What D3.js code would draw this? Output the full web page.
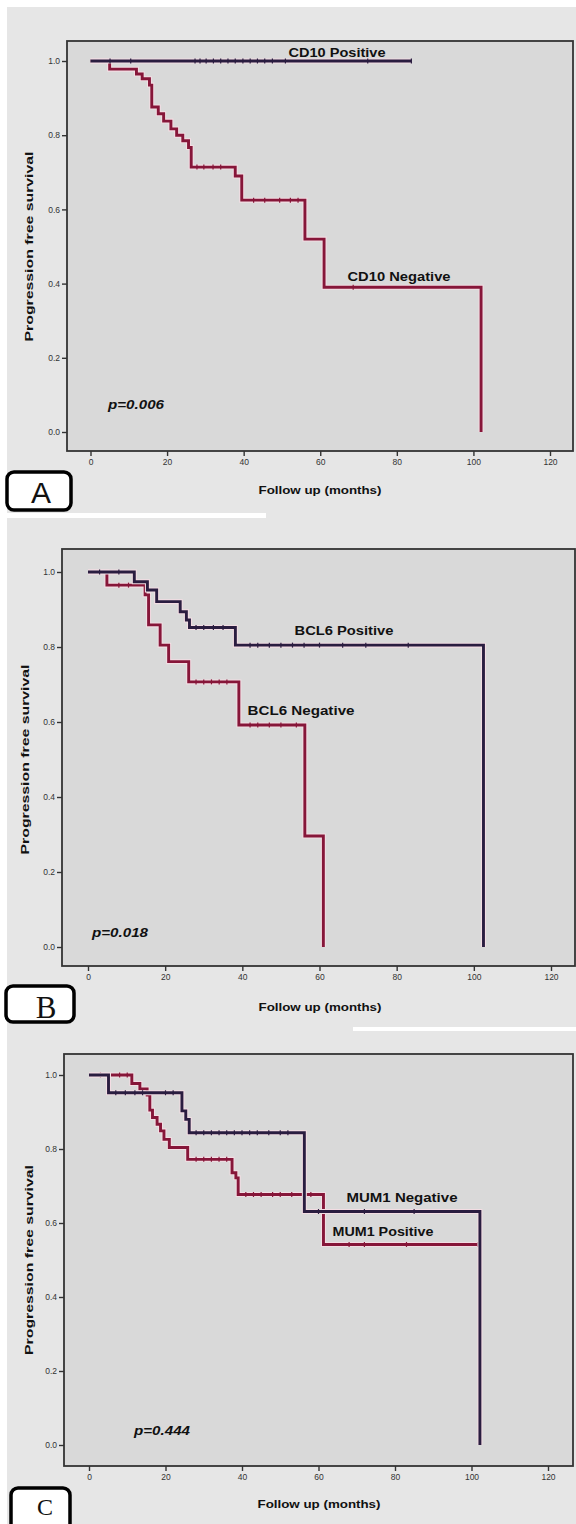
<!DOCTYPE html>
<html>
<head>
<meta charset="utf-8">
<script src="https://cdn.jsdelivr.net/npm/d3@7"></script>
<style>
  body { margin: 0; background: #fff; }
  svg { display: block; }
  text { font-family: "Liberation Sans", Arial, sans-serif; }
</style>
</head>
<body>
<svg id="chart" width="576" height="1524"></svg>
<script>
// axis ticks shared by the three panels
const monthTicks = [0, 20, 40, 60, 80, 100, 120];
const survTicks = [0.0, 0.2, 0.4, 0.6, 0.8, 1.0];

// A - CD10
const cd10PosTime = [0];
const cd10PosSurv = [1];
const cd10PosEnd = 83.8;
const cd10PosCens = [5.1, 10.5, 27.3, 28.6, 30.2, 32.1, 34, 35.9, 37.8, 39.8, 41.7, 43.6, 45.5, 47.5, 50.9, 72.4, 83.8];
const cd10NegTime = [0, 5.0, 12.0, 13.5, 15.4, 16.0, 17.7, 19.1, 21.0, 22.5, 24.1, 25.6, 26.3, 37.8, 39.5, 56.0, 61.0, 102.0];
const cd10NegSurv = [1, 0.978, 0.965, 0.952, 0.935, 0.876, 0.858, 0.838, 0.817, 0.800, 0.785, 0.767, 0.714, 0.690, 0.625, 0.520, 0.390, 0];
const cd10NegCens = [27.8, 29.6, 32.0, 34.0, 42.6, 45.5, 49.4, 52.2, 54.2, 68.6];

// B - BCL6
const bcl6PosTime = [0, 12.0, 15.4, 17.8, 23.9, 25.5, 26.3, 38.2, 102.5];
const bcl6PosSurv = [1, 0.974, 0.952, 0.921, 0.894, 0.872, 0.852, 0.805, 0];
const bcl6PosCens = [3, 8, 28, 30, 32.5, 35, 42, 44, 47, 50, 53, 56, 60, 66, 72, 83];
const bcl6NegTime = [0, 4.9, 14.8, 15.7, 18.7, 20.9, 26.1, 39.1, 56.2, 61.0];
const bcl6NegSurv = [1, 0.965, 0.939, 0.859, 0.805, 0.761, 0.707, 0.592, 0.296, 0];
const bcl6NegCens = [8, 10.5, 28, 30, 32, 34, 36, 42, 44, 47, 50, 54];

// C - MUM1
const mum1NegTime = [0, 5.1, 24.3, 25.3, 26.2, 56.3, 102.2];
const mum1NegSurv = [1, 0.952, 0.903, 0.880, 0.844, 0.631, 0];
const mum1NegCens = [7, 9.5, 12, 14, 20, 22, 28, 30, 32, 34, 36, 38, 40, 42, 44, 47, 50, 52, 60, 72, 85];
const mum1PosTime = [0, 11.2, 13.3, 15.2, 15.9, 16.6, 17.8, 18.7, 19.6, 21.0, 25.8, 37.4, 38.4, 39.0, 61.3];
const mum1PosSurv = [1, 0.977, 0.962, 0.946, 0.905, 0.885, 0.867, 0.849, 0.826, 0.804, 0.772, 0.736, 0.722, 0.677, 0.542];
const mum1PosEnd = 101.7;
const mum1PosCens = [3, 8, 10, 28, 30, 32, 34, 36, 41, 43, 45, 48, 50, 53, 56, 58, 68, 72, 83, 101.7];

const navy = "#2a1d40";
const crimson = "#861639";

const panels = [
  {
    letter: "A", serif: false,
    frame: [67, 41, 573, 451], xr: [90.5, 550], yr: [432, 61], titleX: 29,
    series: [
      {time: cd10NegTime, surv: cd10NegSurv, cens: cd10NegCens, color: crimson},
      {time: cd10PosTime, surv: cd10PosSurv, end: cd10PosEnd, cens: cd10PosCens, color: navy}
    ],
    labels: [
      {text: "CD10 Positive", x: 337, y: 52, w: 97},
      {text: "CD10 Negative", x: 399, y: 276, w: 103}
    ],
    p: {text: "p=0.006", x: 136, y: 405},
    xlab: {x: 320, y: 490},
    box: [7, 472, 64, 38], letterPos: [41, 503], letterSize: 30
  },
  {
    letter: "B", serif: true,
    frame: [62, 549, 575, 966], xr: [88, 551], yr: [947, 572], titleX: 25,
    series: [
      {time: bcl6NegTime, surv: bcl6NegSurv, cens: bcl6NegCens, color: crimson},
      {time: bcl6PosTime, surv: bcl6PosSurv, cens: bcl6PosCens, color: navy}
    ],
    labels: [
      {text: "BCL6 Positive", x: 344, y: 630, w: 99},
      {text: "BCL6 Negative", x: 301, y: 710, w: 107}
    ],
    p: {text: "p=0.018", x: 120, y: 933},
    xlab: {x: 320, y: 1007},
    box: [6, 986, 68, 36], letterPos: [46, 1018], letterSize: 31
  },
  {
    letter: "C", serif: true,
    frame: [64, 1054, 573, 1466], xr: [89, 548], yr: [1445, 1075], titleX: 29,
    series: [
      {time: mum1PosTime, surv: mum1PosSurv, end: mum1PosEnd, cens: mum1PosCens, color: crimson},
      {time: mum1NegTime, surv: mum1NegSurv, cens: mum1NegCens, color: navy}
    ],
    labels: [
      {text: "MUM1 Negative", x: 402, y: 1197, w: 111},
      {text: "MUM1 Positive", x: 383, y: 1231, w: 101}
    ],
    p: {text: "p=0.444", x: 162, y: 1431},
    xlab: {x: 319, y: 1504},
    box: [11, 1488, 59, 50], letterPos: [45, 1515], letterSize: 24
  }
];

const svg = d3.select("#chart");

// page background and the white gaps between the cut-out panels
svg.append("rect").attr("x", 7).attr("y", 7).attr("width", 569).attr("height", 1517).attr("fill", "#e6e6e6");
svg.append("rect").attr("x", 0).attr("y", 513).attr("width", 266).attr("height", 5).attr("fill", "#fff");
svg.append("rect").attr("x", 353).attr("y", 1027).attr("width", 223).attr("height", 4).attr("fill", "#fff");

function survAt(times, surv, t) {
  const i = d3.bisectRight(times, t) - 1;
  return surv[Math.max(0, i)];
}

function drawPanel(p) {
  const g = svg.append("g");
  const [fx0, fy0, fx1, fy1] = p.frame;
  const x = d3.scaleLinear().domain([0, 120]).range(p.xr);
  const y = d3.scaleLinear().domain([0, 1]).range(p.yr);

  g.append("rect")
    .attr("x", fx0).attr("y", fy0)
    .attr("width", fx1 - fx0).attr("height", fy1 - fy0)
    .attr("fill", "#d9d9d9");

  const line = d3.line()
    .x(d => x(d[0]))
    .y(d => y(d[1]))
    .curve(d3.curveStepAfter);

  p.series.forEach(s => {
    const pts = s.time.map((t, i) => [t, s.surv[i]]);
    if (s.end != null) pts.push([s.end, s.surv[s.surv.length - 1]]);

    g.append("path").datum(pts)
      .attr("d", line)
      .attr("fill", "none")
      .attr("stroke", "#f3dde3")
      .attr("stroke-width", 5);
    g.append("path").datum(pts)
      .attr("d", line)
      .attr("fill", "none")
      .attr("stroke", s.color)
      .attr("stroke-width", 2.9);

    g.selectAll(null)
      .data(s.cens)
      .enter()
      .append("line")
      .attr("x1", d => x(d)).attr("x2", d => x(d))
      .attr("y1", d => y(survAt(s.time, s.surv, d)) - 2.5)
      .attr("y2", d => y(survAt(s.time, s.surv, d)) + 2.5)
      .attr("stroke", s.color)
      .attr("stroke-width", 1.2);
  });

  // axes
  const ya = g.append("g")
    .attr("transform", "translate(" + fx0 + ",0)")
    .call(d3.axisLeft(y).tickValues(survTicks).tickFormat(d3.format(".1f")).tickSize(5).tickPadding(2));
  const xa = g.append("g")
    .attr("transform", "translate(0," + fy1 + ")")
    .call(d3.axisBottom(x).tickValues(monthTicks).tickSize(5).tickPadding(3));
  [ya, xa].forEach(a => {
    a.select(".domain").remove();
    a.selectAll(".tick line").attr("stroke", "#333").attr("stroke-width", 1.4);
    a.selectAll("text").attr("font-size", 8.5).attr("fill", "#333")
      .style("font-family", "'Liberation Sans Narrow', 'Liberation Sans', Arial, sans-serif");
  });

  g.append("rect")
    .attr("x", fx0).attr("y", fy0)
    .attr("width", fx1 - fx0).attr("height", fy1 - fy0)
    .attr("fill", "none")
    .attr("stroke", "#333")
    .attr("stroke-width", 1.8);

  // curve labels
  p.labels.forEach(l => {
    g.append("text")
      .attr("x", l.x).attr("y", l.y + 4.5)
      .attr("text-anchor", "middle")
      .attr("font-size", 13).attr("font-weight", "bold")
      .attr("fill", "#111")
      .attr("textLength", l.w).attr("lengthAdjust", "spacingAndGlyphs")
      .text(l.text);
  });

  g.append("text")
    .attr("x", p.p.x).attr("y", p.p.y + 4)
    .attr("text-anchor", "middle")
    .attr("font-size", 12).attr("font-weight", "bold").attr("font-style", "italic")
    .attr("fill", "#111")
    .attr("textLength", 56).attr("lengthAdjust", "spacingAndGlyphs")
    .text(p.p.text);

  g.append("text")
    .attr("x", p.xlab.x).attr("y", p.xlab.y + 4)
    .attr("text-anchor", "middle")
    .attr("font-size", 11).attr("font-weight", "bold")
    .attr("fill", "#111")
    .attr("textLength", 123).attr("lengthAdjust", "spacingAndGlyphs")
    .text("Follow up (months)");

  const cy = (p.yr[0] + p.yr[1]) / 2;
  g.append("text")
    .attr("transform", "translate(" + (p.titleX + 4) + "," + cy + ") rotate(-90)")
    .attr("text-anchor", "middle")
    .attr("font-size", 11).attr("font-weight", "bold")
    .attr("fill", "#111")
    .attr("textLength", 190).attr("lengthAdjust", "spacingAndGlyphs")
    .text("Progression free survival");

  // panel letter box
  g.append("rect")
    .attr("x", p.box[0]).attr("y", p.box[1])
    .attr("width", p.box[2]).attr("height", p.box[3])
    .attr("rx", 7)
    .attr("fill", "#fff")
    .attr("stroke", "#000")
    .attr("stroke-width", 3.5);
  g.append("text")
    .attr("x", p.letterPos[0]).attr("y", p.letterPos[1])
    .attr("text-anchor", "middle")
    .attr("font-size", p.letterSize)
    .style("font-family", p.serif ? "'Liberation Serif', 'Times New Roman', serif" : "'Liberation Sans', Arial, sans-serif")
    .attr("fill", "#111")
    .text(p.letter);
}

panels.forEach(drawPanel);
</script>
</body>
</html>
